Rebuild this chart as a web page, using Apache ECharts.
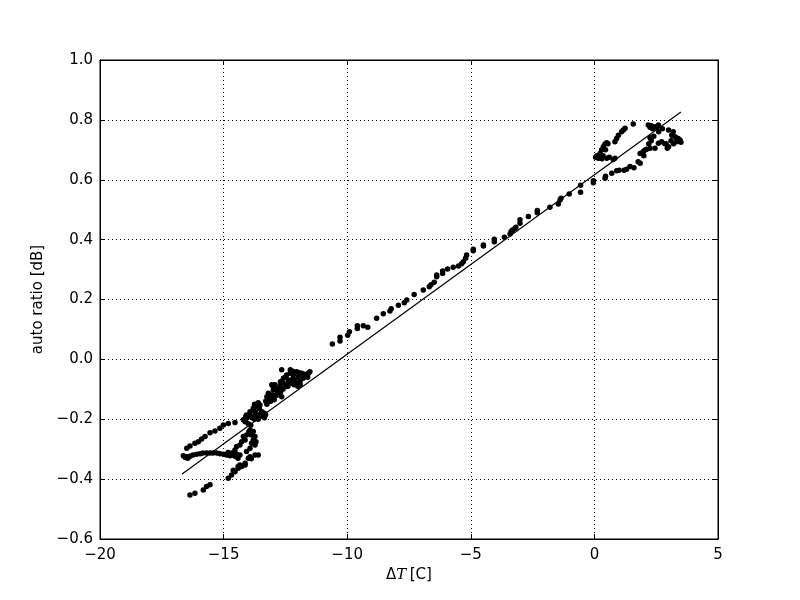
<!DOCTYPE html>
<html>
<head>
<meta charset="utf-8">
<script src="https://cdn.jsdelivr.net/npm/echarts@6/dist/echarts.min.js"></script>
<style>html,body{margin:0;padding:0;background:#fff}#c{width:800px;height:600px}</style>
</head>
<body>
<div id="c"></div>
<script>
// Scatter data: temperature difference (x) and auto ratio (y)
const dT = [
  // left cluster
  -16.36,-16.16,-15.82,-15.69,-15.55,
  -14.81,-14.68,-14.54,-14.41,-14.27,-14.13,-14.61,-14.41,-14.34,-14.13,
  -16.63,-16.49,-16.36,-16.24,-16.09,-15.95,-15.84,-15.69,-15.55,-15.43,-15.28,-15.15,-15.01,-14.88,-14.82,-14.74,-14.66,-14.61,-14.54,-14.47,-14.42,-14.34,-16.55,-16.45,
  -16.49,-16.36,-16.16,-16.02,-15.89,-15.75,-15.55,-15.35,-15.15,-15.01,-14.81,-14.54,
  -13.93,-13.80,-13.87,-13.73,-13.80,-13.69,-13.87,-13.73,-13.93,-14.07,-14.13,-14.20,-14.27,-14.34,-14.47,-14.54,-13.93,-13.88,-14.00,-13.60,-13.73,-14.07,-13.98,
  -14.20,-14.07,-13.93,-14.13,-13.80,-13.66,-13.53,-13.73,-13.60,-13.46,-13.40,-14.07,-13.88,-13.70,
  -14.00,-13.90,-13.85,-13.75,-13.65,-13.60,-13.50,-13.45,-13.35,-13.30,-13.95,-14.10,-13.55,-13.75,-13.60,-13.30,-13.25,-13.15,-13.35,
  -13.19,-13.12,-13.05,-12.99,-13.05,-12.92,-13.19,-12.86,-12.79,-12.72,-12.58,-12.58,-12.45,-12.38,-12.31,-12.25,-12.18,-12.11,-12.04,-11.98,-11.91,-11.84,-11.78,-11.64,-11.57,-11.51,-12.65,-12.45,-13.25,-12.90,-12.70,
  -13.10,-13.00,-12.95,-12.85,-12.80,-12.70,-12.65,-12.60,-12.50,-12.40,-12.35,-12.20,-12.15,-12.05,-12.00,-11.90,-12.30,-12.20,-11.95,-11.70,-11.60,-12.50,-12.90,-13.00,
  // middle section
  -10.60,-10.29,-10.29,-9.98,-9.91,-9.59,-9.59,-9.35,-9.17,-8.81,-8.54,-8.27,-8.22,-7.93,-7.69,-7.59,-7.29,-6.92,-6.68,-6.61,-6.48,-6.38,-6.38,-6.14,-6.14,-5.94,-5.71,-5.50,-5.37,-5.30,-5.21,-5.17,
  -4.90,-4.90,-4.49,-4.49,-4.05,-4.05,-3.64,-3.41,-3.37,-3.31,-3.21,-3.18,-3.01,-3.01,-2.67,-2.31,-2.31,-1.80,-1.46,-1.39,-1.35,-1.02,-0.56,-0.56,-0.04,-0.04,
  // right cluster
  0.16,0.23,0.29,0.36,0.43,0.50,0.83,0.90,0.97,1.10,1.17,1.24,1.57,2.18,2.25,2.45,2.59,2.52,3.00,3.19,3.13,3.26,3.33,3.46,3.39,
  0.05,0.16,0.30,0.50,0.76,0.83,0.10,
  1.85,1.98,2.05,2.11,2.25,2.45,2.59,2.72,2.20,2.30,2.90,3.00,3.10,
  0.43,0.45,0.70,0.90,1.30,1.20,1.44,1.77,1.85,
  2.30,2.35,2.40,2.25,2.60,2.75,2.85,2.95,3.20,3.30,3.40,3.50,1.95,2.00,0.60,0.35,0.45,0.55,1.60,1.00
];
const ratio = [
  -0.453,-0.447,-0.436,-0.425,-0.419,
  -0.397,-0.386,-0.375,-0.364,-0.358,-0.353,-0.370,-0.358,-0.353,-0.347,
  -0.322,-0.325,-0.324,-0.319,-0.317,-0.315,-0.313,-0.313,-0.313,-0.313,-0.313,-0.315,-0.317,-0.319,-0.311,-0.322,-0.313,-0.320,-0.324,-0.317,-0.330,-0.319,-0.328,-0.330,
  -0.297,-0.289,-0.280,-0.275,-0.266,-0.258,-0.245,-0.239,-0.230,-0.219,-0.214,-0.211,
  -0.236,-0.241,-0.253,-0.258,-0.269,-0.275,-0.280,-0.286,-0.297,-0.308,-0.269,-0.258,-0.275,-0.286,-0.291,-0.303,-0.325,-0.332,-0.330,-0.319,-0.319,-0.253,-0.242,
  -0.202,-0.186,-0.175,-0.208,-0.163,-0.158,-0.152,-0.175,-0.186,-0.180,-0.191,-0.197,-0.190,-0.180,
  -0.215,-0.220,-0.195,-0.200,-0.190,-0.200,-0.185,-0.175,-0.180,-0.185,-0.185,-0.190,-0.165,-0.150,-0.145,-0.140,-0.150,-0.130,-0.195,
  -0.141,-0.130,-0.119,-0.102,-0.085,-0.085,-0.113,-0.102,-0.113,-0.091,-0.063,-0.080,-0.052,-0.069,-0.046,-0.080,-0.052,-0.069,-0.041,-0.058,-0.074,-0.046,-0.063,-0.052,-0.046,-0.041,-0.035,-0.091,-0.125,-0.120,-0.075,
  -0.140,-0.120,-0.135,-0.120,-0.100,-0.110,-0.125,-0.100,-0.085,-0.090,-0.075,-0.065,-0.085,-0.080,-0.090,-0.085,-0.035,-0.040,-0.045,-0.050,-0.060,-0.060,-0.100,-0.090,
  0.051,0.061,0.074,0.081,0.092,0.103,0.112,0.112,0.107,0.137,0.152,0.162,0.169,0.181,0.189,0.198,0.217,0.232,0.243,0.249,0.258,0.276,0.282,0.287,0.295,0.302,0.308,0.312,0.319,0.326,0.338,0.349,
  0.363,0.368,0.379,0.382,0.393,0.401,0.408,0.419,0.427,0.432,0.438,0.441,0.455,0.466,0.477,0.490,0.497,0.508,0.519,0.532,0.538,0.552,0.558,0.582,0.590,0.597,
  0.677,0.688,0.699,0.710,0.719,0.724,0.727,0.738,0.749,0.760,0.766,0.772,0.786,0.783,0.775,0.777,0.783,0.772,0.766,0.760,0.749,0.744,0.727,0.733,0.738,
  0.675,0.672,0.670,0.672,0.668,0.672,0.680,
  0.688,0.694,0.699,0.702,0.705,0.705,0.722,0.727,0.720,0.730,0.720,0.710,0.730,
  0.605,0.612,0.622,0.630,0.635,0.632,0.644,0.660,0.655,
  0.780,0.770,0.745,0.740,0.760,0.770,0.720,0.705,0.720,0.740,0.730,0.725,0.690,0.680,0.675,0.680,0.700,0.720,0.640,0.632
];
// Linear fit line endpoints
const fitX = [-16.68, 3.50];
const fitY = [-0.383, 0.826];
// Axis ticks
const xTicks = [-20, -15, -10, -5, 0, 5];
const yTicks = [-0.6, -0.4, -0.2, 0.0, 0.2, 0.4, 0.6, 0.8, 1.0];

const points = dT.map((x, i) => [x, ratio[i]]);
const fitLine = fitX.map((x, i) => [x, fitY[i]]);
const minus = s => String(s).replace('-', '\u2212');
const font = 'DejaVu Sans';

const chart = echarts.init(document.getElementById('c'), null, {renderer: 'canvas'});
const baseAxisX = {
  type: 'value', min: xTicks[0], max: xTicks[xTicks.length - 1], interval: 5
};
const baseAxisY = {
  type: 'value', min: yTicks[0], max: yTicks[yTicks.length - 1], interval: 0.2
};
chart.setOption({
  backgroundColor: '#fff',
  animation: false,
  grid: {left: 100, right: 82, top: 60, bottom: 61, show: true, borderColor: '#000', borderWidth: 1, backgroundColor: 'transparent'},
  xAxis: [
    Object.assign({}, baseAxisX, {
      position: 'bottom',
      name: '{d|\u0394}{t|T} {d|[C]}',
      nameLocation: 'middle', nameGap: 25,
      nameTextStyle: {rich: {d: {fontFamily: font, fontSize: 15, color: '#000'}, t: {fontFamily: 'DejaVu Serif', fontStyle: 'italic', fontSize: 15, color: '#000'}}},
      axisLine: {show: true, onZero: false, lineStyle: {color: '#000', width: 1}},
      axisTick: {show: true, inside: true, length: 5, lineStyle: {color: '#000'}},
      axisLabel: {color: '#000', fontFamily: font, fontSize: 15, margin: 9, formatter: v => minus(v)},
      splitLine: {show: true, lineStyle: {color: '#000', type: [1, 3], width: 1}}
    }),
    Object.assign({}, baseAxisX, {
      position: 'top',
      axisLine: {show: true, onZero: false, lineStyle: {color: '#000'}},
      axisTick: {show: true, inside: true, length: 5, lineStyle: {color: '#000'}},
      axisLabel: {show: false}, splitLine: {show: false}
    })
  ],
  yAxis: [
    Object.assign({}, baseAxisY, {
      position: 'left',
      name: 'auto ratio [dB]',
      nameLocation: 'middle', nameGap: 52,
      nameTextStyle: {fontFamily: font, fontSize: 15, color: '#000'},
      axisLine: {show: true, onZero: false, lineStyle: {color: '#000', width: 1}},
      axisTick: {show: true, inside: true, length: 5, lineStyle: {color: '#000'}},
      axisLabel: {color: '#000', fontFamily: font, fontSize: 15, margin: 7, formatter: v => minus(v.toFixed(1))},
      splitLine: {show: true, lineStyle: {color: '#000', type: [1, 3], width: 1}}
    }),
    Object.assign({}, baseAxisY, {
      position: 'right',
      axisLine: {show: true, onZero: false, lineStyle: {color: '#000'}},
      axisTick: {show: true, inside: true, length: 5, lineStyle: {color: '#000'}},
      axisLabel: {show: false}, splitLine: {show: false}
    })
  ],
  series: [
    {
      type: 'scatter', data: points, symbol: 'circle', symbolSize: 5.5,
      itemStyle: {color: '#000', opacity: 1}, xAxisIndex: 0, yAxisIndex: 0
    },
    {
      type: 'line', data: fitLine, symbol: 'none', xAxisIndex: 0, yAxisIndex: 0,
      lineStyle: {color: '#000', width: 1.2}
    }
  ]
});
</script>
</body>
</html>
